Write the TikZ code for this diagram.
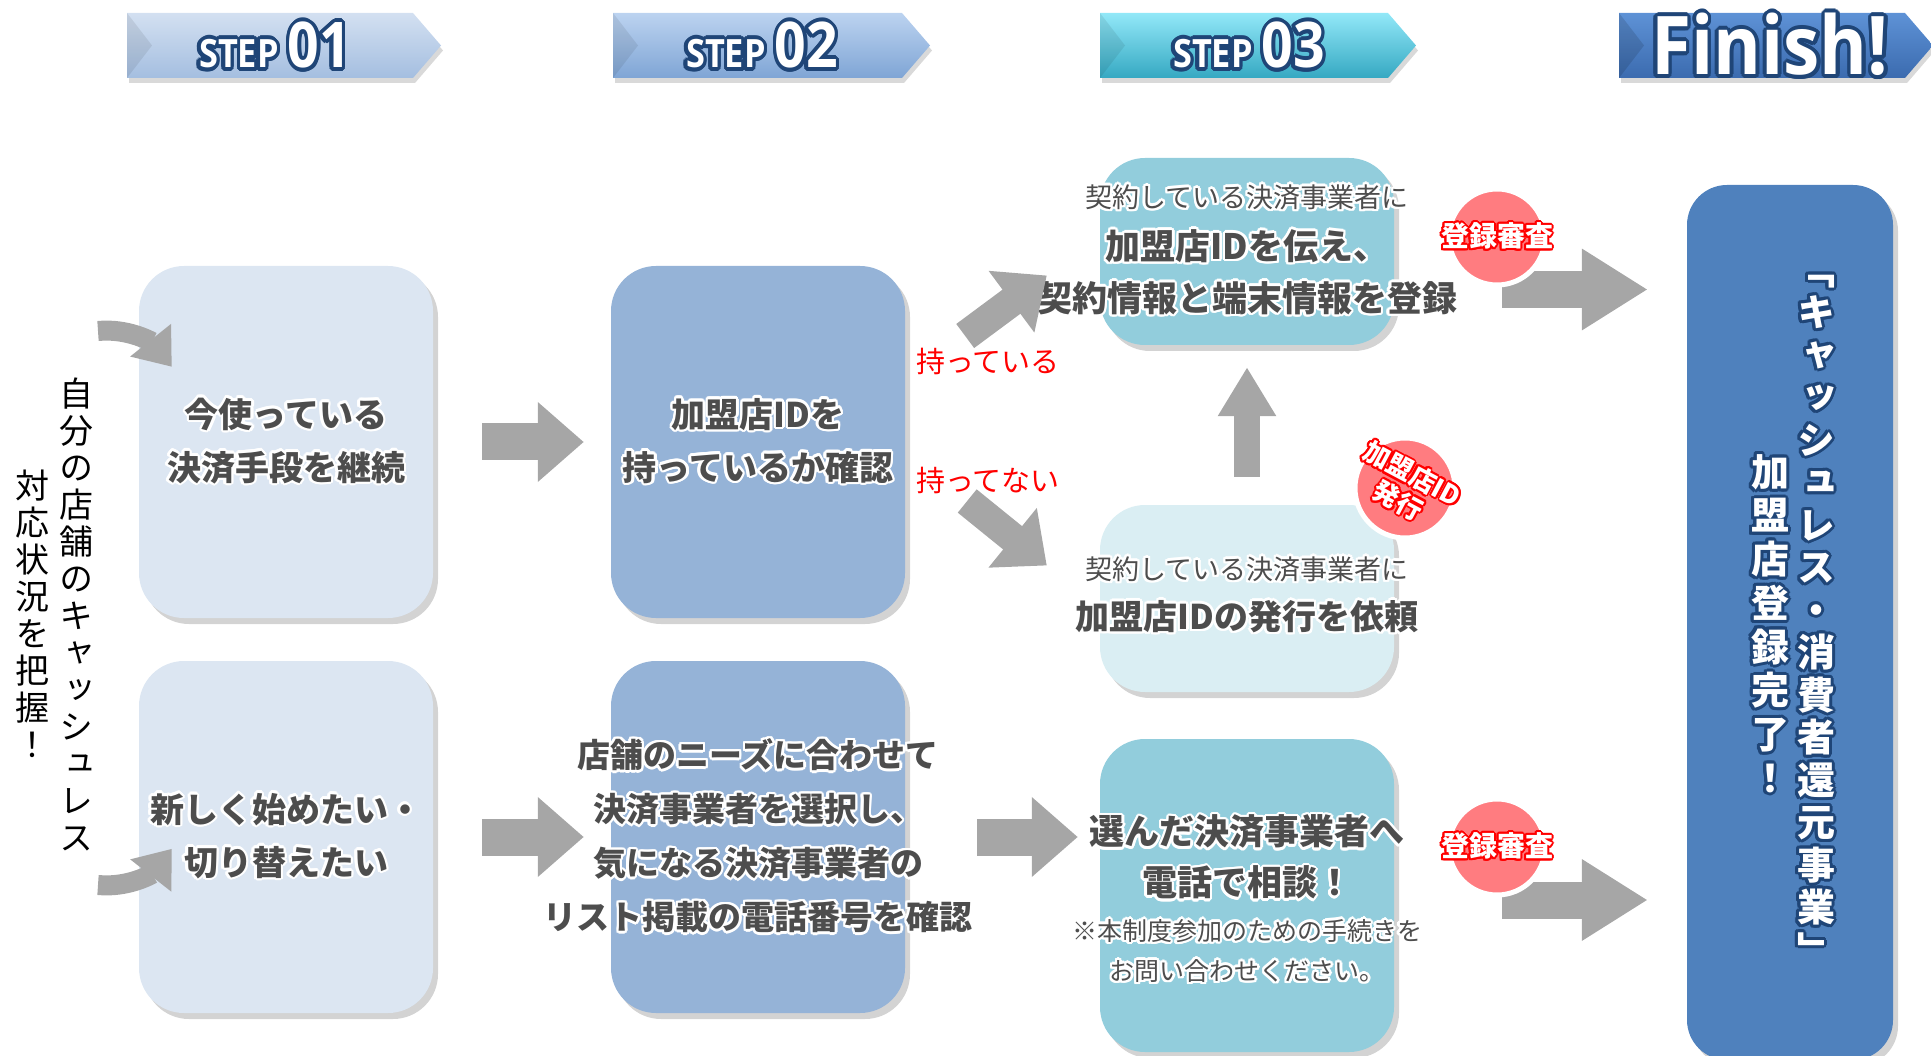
\documentclass[tikz,border=0pt]{standalone}
\usepackage{fontspec}
\setmainfont{Noto Sans CJK JP}
\newfontfamily\tatefont[RawFeature=+vert]{Noto Sans CJK JP}
\newfontfamily\stepfont{Open Sans}
\usepackage[copies]{contour}
\contournumber{16}
\contourlength{2.5pt}
\usetikzlibrary{arrows.meta,shadows,positioning}

\definecolor{boxpale}{HTML}{DCE6F2}
\definecolor{boxmid}{HTML}{95B3D7}
\definecolor{boxteal}{HTML}{92CDDC}
\definecolor{boxice}{HTML}{DAEEF3}
\definecolor{boxdeep}{HTML}{4F81BD}
\definecolor{arrowgray}{HTML}{A6A6A6}
\definecolor{stampred}{HTML}{FF7C80}
\definecolor{inkgray}{HTML}{4D4D4D}
\definecolor{glowblue}{HTML}{1F4577}
\definecolor{stepa1}{HTML}{D3E0F1}
\definecolor{stepa2}{HTML}{A4BEE0}
\definecolor{stepb1}{HTML}{BCD3F0}
\definecolor{stepb2}{HTML}{7FA5D5}
\definecolor{stepc1}{HTML}{92E8F8}
\definecolor{stepc2}{HTML}{35A8C2}
\definecolor{stepd1}{HTML}{5E92D6}
\definecolor{stepd2}{HTML}{3B6BAF}

\newcommand\gw[1]{\contour{white}{#1}}
\newcommand\gd[1]{\contour{glowblue}{#1}}
\newcommand\gr[1]{\contour{red}{#1}}

\tikzset{
  banner/.style={drop shadow={shadow xshift=2pt,shadow yshift=-5pt,opacity=.3}},
  bannertext/.style={text=white, anchor=base, inner sep=0pt, font=\stepfont\bfseries\contourlength{4pt}},
  flowbox/.style={rounded corners=45pt, minimum width=294pt, inner sep=0pt,
    drop shadow={shadow xshift=5pt,shadow yshift=-6pt,opacity=.35}},
  boxtext/.style={align=center, text=inkgray, font=\bfseries\fontsize{34}{53}\selectfont},
  grayarrow/.style={draw=arrowgray, line width=37pt, -{Triangle[length=46pt,width=77pt]}},
  stamp/.style={circle, fill=stampred, draw=white, line width=5pt, minimum size=96pt, inner sep=0pt},
  stamptext/.style={text=white, align=center, font=\bfseries\contourlength{2pt}\fontsize{28}{32}\selectfont},
  redlabel/.style={text=red, font=\fontsize{29}{32}\selectfont},
  tate/.style={align=center, font=\tatefont\fontsize{34}{37}\selectfont},
}

\begin{document}
\begin{tikzpicture}[x=1pt,y=-1pt]
\useasboundingbox (0,0) rectangle (1931,1056);
\clip (0,0) rectangle (1931,1056);

% step banners
\path[banner, top color=stepa1, bottom color=stepa2] (127,13) -- (413,13) -- (441,45.5) -- (413,78) -- (127,78) -- cycle;
\path[banner, top color=stepb1, bottom color=stepb2] (613,13) -- (902,13) -- (930,45.5) -- (902,78) -- (613,78) -- cycle;
\path[banner, top color=stepc1, bottom color=stepc2] (1100,13) -- (1388,13) -- (1416,45.5) -- (1388,78) -- (1100,78) -- cycle;
\path[banner, top color=stepd1, bottom color=stepd2] (1619,13) -- (1905,13) -- (1933,45.5) -- (1905,78) -- (1619,78) -- cycle;
\fill[black, opacity=.08] (127,13) -- (152,45.5) -- (127,78) -- cycle;
\fill[black, opacity=.08] (613,13) -- (638,45.5) -- (613,78) -- cycle;
\fill[black, opacity=.08] (1100,13) -- (1125,45.5) -- (1100,78) -- cycle;
\fill[black, opacity=.12] (1619,13) -- (1644,45.5) -- (1619,78) -- cycle;
\node[bannertext] (s1) at (275,68) {\scalebox{.88}[1]{\fontsize{39}{39}\selectfont\gd{STEP}\hspace{10pt}\fontsize{63}{63}\selectfont\gd{01}}};
\node[bannertext] (s2) at (762,68) {\scalebox{.88}[1]{\fontsize{39}{39}\selectfont\gd{STEP}\hspace{10pt}\fontsize{63}{63}\selectfont\gd{02}}};
\node[bannertext] (s3) at (1249,68) {\scalebox{.88}[1]{\fontsize{39}{39}\selectfont\gd{STEP}\hspace{10pt}\fontsize{63}{63}\selectfont\gd{03}}};
\node[bannertext] (s4) at (1770,75) {\scalebox{.9}[1]{\fontsize{81}{81}\selectfont\gd{Finish!}}};

% boxes
\node[flowbox, fill=boxpale, minimum height=352pt] (boxa) at (286,442) {};
\node[flowbox, fill=boxpale, minimum height=352pt] (boxb) at (286,837) {};
\node[flowbox, fill=boxmid, minimum height=352pt] (boxc) at (758,442) {};
\node[flowbox, fill=boxmid, minimum height=352pt] (boxd) at (758,837) {};
\node[flowbox, fill=boxteal, minimum height=187pt] (boxe) at (1247,251.5) {};
\node[flowbox, fill=boxice, minimum height=187pt] (boxf) at (1247,598.5) {};
\node[flowbox, fill=boxteal, minimum height=313pt] (boxg) at (1247,895.5) {};
\node[flowbox, fill=boxdeep, minimum width=206pt, minimum height=875pt, rounded corners=40pt] (boxh) at (1790,622.5) {};

% texts
\node[boxtext] (ta) at (boxa) {\gw{今使っている}\\\gw{決済手段を継続}};
\node[boxtext] (tb) at (boxb) {\gw{新しく始めたい・}\\\gw{切り替えたい}};
\node[boxtext] (tc) at (boxc) {\gw{加盟店IDを}\\\gw{持っているか確認}};
\node[boxtext, font=\bfseries\fontsize{33}{54}\selectfont] (td) at (boxd) {\gw{店舗のニーズに合わせて}\\\gw{決済事業者を選択し、}\\\gw{気になる決済事業者の}\\\gw{リスト掲載の電話番号を確認}};
\node[boxtext, font=\bfseries\fontsize{35}{52}\selectfont] (te) at (1247,251) {{\mdseries\fontsize{27}{52}\selectfont\gw{契約している決済事業者に}}\\\gw{加盟店IDを伝え、}\\\gw{契約情報と端末情報を登録}};
\node[boxtext, font=\bfseries\fontsize{34}{50}\selectfont] (tf) at (1247,596) {{\mdseries\fontsize{27}{50}\selectfont\gw{契約している決済事業者に}}\\\gw{加盟店IDの発行を依頼}};
\node[boxtext, font=\bfseries\fontsize{35}{40}\selectfont] (tg) at (1247,900) {\gw{選んだ決済事業者へ}\\[11pt]\gw{電話で相談！}\\[4.5pt]{\mdseries\fontsize{25}{40}\selectfont\gw{※本制度参加のための手続きを}}\\{\mdseries\fontsize{25}{40}\selectfont\gw{お問い合わせください。}}};

% vertical texts
\node[tate] (jibun) at (76,614) {自\\分\\の\\店\\舗\\の\\キ\\ャ\\ッ\\シ\\ュ\\レ\\ス};
\node[tate] (haaku) at (33,614) {対\\応\\状\\況\\を\\把\\握\\！};
\node[tate, text=white, font=\tatefont\bfseries\contourlength{3pt}\fontsize{38}{42.5}\selectfont] (jigyo) at (1816,621) {\gd{﹁}\\\gd{キ}\\\gd{ャ}\\\gd{ッ}\\\gd{シ}\\\gd{ュ}\\\gd{レ}\\\gd{ス}\\\gd{・}\\\gd{消}\\\gd{費}\\\gd{者}\\\gd{還}\\\gd{元}\\\gd{事}\\\gd{業}\\\gd{﹂}};
\node[tate, text=white, font=\tatefont\bfseries\contourlength{3pt}\fontsize{38}{43.7}\selectfont] (kanryo) at (1770,625) {\gd{加}\\\gd{盟}\\\gd{店}\\\gd{登}\\\gd{録}\\\gd{完}\\\gd{了}\\\gd{！}};

% arrows
\coordinate (cura) at (98,331);
\coordinate (curb) at (98,885);
\draw[draw=arrowgray, line width=20pt, -{Triangle[length=34pt,width=50pt]}] (cura) .. controls (128,328) and (152,342) .. ([xshift=33pt,yshift=-101pt]boxa.north west);
\draw[draw=arrowgray, line width=20pt, -{Triangle[length=34pt,width=50pt]}] (curb) .. controls (128,888) and (152,874) .. ([xshift=33pt,yshift=-188pt]boxb.north west);
\draw[grayarrow, shorten <=49pt, shorten >=27pt] (boxa) -- (boxc);
\draw[grayarrow, shorten <=49pt, shorten >=27pt] (boxb) -- (boxd);
\draw[grayarrow, shorten <=72pt, shorten >=22pt] (boxd.east) -- (boxd.east -| boxg.west);
\draw[grayarrow, line width=30pt, -{Triangle[length=44pt,width=74pt]}] ([xshift=60pt,yshift=106pt]boxc.east) -- ([xshift=-53pt,yshift=-24pt]boxe.west);
\draw[grayarrow, line width=30pt, -{Triangle[length=44pt,width=74pt]}] ([xshift=62pt,yshift=-59pt]boxc.east) -- ([xshift=-53pt,yshift=33pt]boxf.west);
\draw[grayarrow, line width=26pt, -{Triangle[length=49pt,width=55pt]}, shorten <=28pt, shorten >=22pt] (boxf.north) -- (boxe.south);
\draw[grayarrow, -{Triangle[length=66pt,width=77pt]}, shorten <=108pt, shorten >=39pt] ([yshift=-38pt]boxe.east) -- ([yshift=-38pt]boxe.east -| boxh.west);
\draw[grayarrow, -{Triangle[length=66pt,width=77pt]}, shorten <=108pt, shorten >=39pt] ([yshift=-4.5pt]boxg.east) -- ([yshift=-4.5pt]boxg.east -| boxh.west);

% red labels
\node[redlabel] (motsu) at (988,361) {持っている};
\node[redlabel] (motanai) at (988,480) {持ってない};

% stamps
\node[stamp] (rev1) at (1497,237) {};
\node[stamptext] (rev1t) at (rev1) {\gr{登録審査}};
\node[stamp] (rev2) at (1497,847) {};
\node[stamptext] (rev2t) at (rev2) {\gr{登録審査}};
\node[stamp, minimum size=100pt] (issue) at (1405,488) {};
\node[stamptext, rotate=-28, font=\bfseries\contourlength{2pt}\fontsize{26}{30}\selectfont] (issuet) at (issue) {\gr{加盟店ID}\\\gr{発行}};
\end{tikzpicture}
\end{document}
